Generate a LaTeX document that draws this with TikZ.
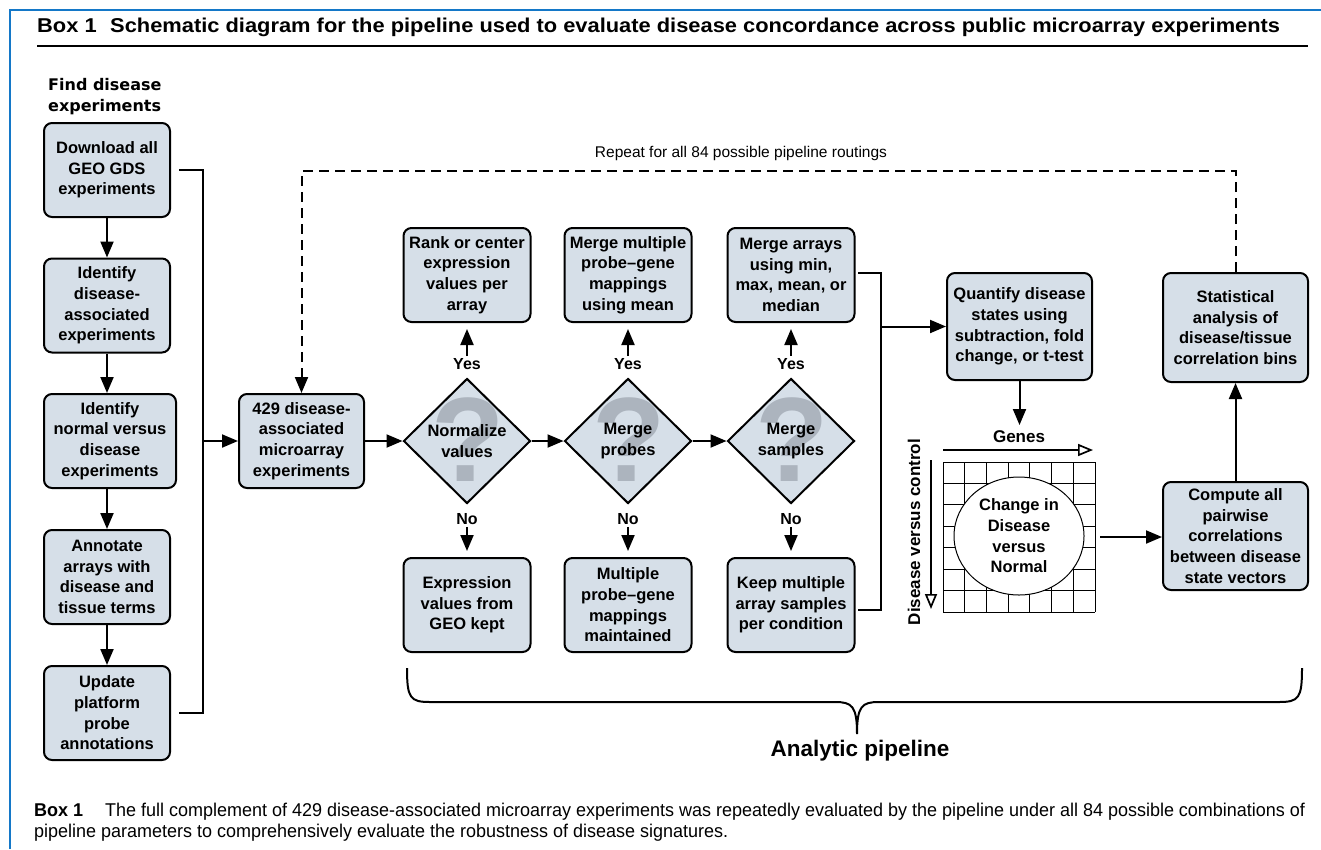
\documentclass[tikz,border=0pt]{standalone}
\usepackage{fontspec}
\usepackage{graphicx}
\setmainfont{Liberation Sans}
\newfontfamily\hdrfamily{DejaVu Sans}
\usetikzlibrary{arrows.meta,shapes.geometric,calc}
\definecolor{boxfill}{RGB}{214,223,232}
\definecolor{frameblue}{RGB}{20,120,200}
\definecolor{qmark}{RGB}{172,180,190}
\newlength\capw
\newlength\titw
\newcommand\boxfont{\bfseries\fontsize{16.5}{20.7}\selectfont}
\newcommand\titlefont{\bfseries\fontsize{20}{24}\selectfont}
\newcommand\capfont{\fontsize{18.5}{21}\selectfont}
\tikzset{
  pbox/.style={draw=black, line width=2pt, fill=boxfill, rounded corners=8pt,
    align=center, inner sep=0pt, font=\boxfont},
  lbox/.style={pbox, minimum width=126pt, minimum height=94pt},
  mbox/.style={pbox, minimum width=127pt, minimum height=94pt},
  rbox/.style={pbox, minimum width=145pt, minimum height=108pt},
  dia/.style={draw=black, line width=2pt, fill=boxfill, diamond, inner sep=0pt,
    minimum width=127pt, minimum height=125pt},
  qm/.style={font=\bfseries\fontsize{120}{120}\selectfont, text=qmark, inner sep=0pt},
  dtext/.style={font=\boxfont, align=center, inner sep=0pt},
  yn/.style={font=\bfseries\fontsize{16}{19}\selectfont, inner sep=2pt},
  conn/.style={line width=2pt},
  arr/.style={line width=2pt, -{Triangle[length=16pt,width=13pt]}},
  openarr/.style={line width=1.7pt, -{Triangle[open,length=15pt,width=12pt]}},
  dashconn/.style={line width=2pt, dash pattern=on 10pt off 6pt,
    -{Triangle[length=16pt,width=13pt]}},
  gridline/.style={line width=1pt},
}
\begin{document}
\settowidth{\titw}{\titlefont Schematic diagram for the pipeline used to evaluate disease concordance across public microarray experiments}%
\settowidth{\capw}{\capfont The full complement of 429 disease-associated microarray experiments was repeatedly evaluated by the pipeline under all 84 possible combinations of}%
\begin{tikzpicture}[x=1pt,y=-1pt]
\pgfmathsetmacro{\titfac}{1170/\titw}
\pgfmathsetmacro{\capfac}{1200/\capw}
\useasboundingbox (0,0) rectangle (1321,849);
\fill[white] (0,0) rectangle (1321,849);
% frame
\draw[frameblue, line width=2.8pt] (10,849) -- (10,10) -- (1321,10);
% title
\node[anchor=base west, inner sep=0pt, font=\titlefont] (tbox) at (37,32) {\scalebox{\titfac}[1]{Box 1}};
\node[anchor=base west, inner sep=0pt, font=\titlefont] (title) at (110,32) {\scalebox{\titfac}[1]{Schematic diagram for the pipeline used to evaluate disease concordance across public microarray experiments}};
\draw[line width=2.6pt] (37,46) -- (1308,46);
% header
\node[anchor=base west, inner sep=0pt, font=\hdrfamily\bfseries\fontsize{16}{20}\selectfont] (hdr1) at (48,90) {Find disease};
\node[anchor=base west, inner sep=0pt, font=\hdrfamily\bfseries\fontsize{16}{20}\selectfont] (hdr2) at (48,111) {experiments};
% left column
\node[lbox] (b1) at (107,170) {Download all\\GEO GDS\\experiments};
\node[lbox] (b2) at (107,305.5) {Identify\\disease-\\associated\\experiments};
\node[lbox, minimum width=132pt] (b3) at (110,441) {Identify\\normal versus\\disease\\experiments};
\node[lbox] (b4) at (107,577) {Annotate\\arrays with\\disease and\\tissue terms};
\node[lbox] (b5) at (107,713) {Update\\platform\\probe\\annotations};
\draw[arr] (b1.south) -- (b2.north);
\draw[arr] (b2.south) -- (b2.south |- b3.north);
\draw[arr] (b2.south |- b3.south) -- (b4.north);
\draw[arr] (b4.south) -- (b5.north);
% bracket 1
\coordinate (jl) at (203,441);
\draw[conn] ([xshift=8pt]b1.east) -| (jl |- b5.east) -- ([xshift=8pt]b5.east);
\node[lbox, minimum width=125pt] (n429) at (301.5,441) {429 disease-\\associated\\microarray\\experiments};
\draw[arr] (jl) -- (n429.west);
% diamonds
\node[dia] (d1) at (467,441) {};
\node[dia] (d2) at (628,441) {};
\node[dia] (d3) at (791,441) {};
\node[qm] (q1) at (468,440) {?};
\node[qm] (q2) at (629,440) {?};
\node[qm] (q3) at (792,440) {?};
\node[dtext] (dt1) at (d1.center) {Normalize\\values};
\node[dtext] (dt2) at (d2.center) {Merge\\probes};
\node[dtext] (dt3) at (d3.center) {Merge\\samples};
\draw[arr] (n429.east) -- (d1.west);
\draw[arr] (d1.east) -- (d2.west);
\draw[arr] (d2.east) -- (d3.west);
% top boxes
\node[mbox] (t1) at (467,275) {Rank or center\\expression\\values per\\array};
\node[mbox] (t2) at (628,275) {Merge multiple\\probe--gene\\mappings\\using mean};
\node[mbox] (t3) at (791,275) {Merge arrays\\using min,\\max, mean, or\\median};
% bottom boxes
\node[mbox] (u1) at (467,605) {Expression\\values from\\GEO kept};
\node[mbox] (u2) at (628,605) {Multiple\\probe--gene\\mappings\\maintained};
\node[mbox] (u3) at (791,605) {Keep multiple\\array samples\\per condition};
% yes / no
\node[yn] (y1) at (467,364) {Yes};
\node[yn] (y2) at (628,364) {Yes};
\node[yn] (y3) at (791,364) {Yes};
\node[yn] (n1) at (467,519) {No};
\node[yn] (n2) at (628,519) {No};
\node[yn] (n3) at (791,519) {No};
\foreach \k in {1,2,3}{
  \draw[arr] (y\k.north) -- ([yshift=-6pt]t\k.south);
  \draw[arr] (n\k.south) -- ([yshift=6pt]u\k.north);
}
% bracket 2
\coordinate (r1) at (858,273);
\coordinate (r2) at (881,273);
\coordinate (r3) at (881,610);
\coordinate (r4) at (858,610);
\draw[conn] (r1) -- (r2) -- (r3) -- (r4);
\node[rbox, minimum height=107pt] (quant) at (1019.5,326.5) {Quantify disease\\states using\\subtraction, fold\\change, or t-test};
\draw[arr] (r2 |- quant.west) -- (quant.west);
\coordinate (qd) at (1019.5,425);
\draw[arr] (quant.south) -- (qd);
% matrix
\node[inner sep=0pt, minimum width=152pt, minimum height=150pt] (grid) at (1019,537) {};
\foreach \i in {0,...,7}{
  \draw[gridline] (943+\i*21.714,462) -- (943+\i*21.714,612);
  \draw[gridline] (943,462+\i*21.43) -- (1095,462+\i*21.43);
}
\node[draw, line width=1pt, fill=white, ellipse, inner sep=0pt, minimum width=130pt, minimum height=118pt] (chg) at (1019,536) {};
\node[dtext] (chgt) at (chg.center) {Change in\\Disease\\versus\\Normal};
\coordinate (ga) at (943,450);
\coordinate (gb) at (1093,450);
\draw[openarr] (ga) -- (gb);
\node[font=\bfseries\fontsize{17}{19}\selectfont, inner sep=0pt] (genes) at (1019,437) {Genes};
\coordinate (va) at (931,460);
\coordinate (vb) at (931,609);
\draw[openarr] (va) -- (vb);
\node[font=\bfseries\fontsize{17}{19}\selectfont, inner sep=0pt, rotate=90] (dvc) at (914,532) {Disease versus control};
% right column
\node[rbox, minimum height=109pt] (stat) at (1235.5,327.5) {Statistical\\analysis of\\disease/tissue\\correlation bins};
\node[rbox] (comp) at (1235.5,536) {Compute all\\pairwise\\correlations\\between disease\\state vectors};
\draw[arr] ([xshift=5pt]grid.east) -- (grid.east -| comp.west);
\draw[arr] (comp.north) -- (stat.south);
% dashed loop
\coordinate (dtop) at (0,171);
\draw[dashconn] (stat.north) -- (stat.north |- dtop) -- (n429.north |- dtop) -- (n429.north);
\node[font=\fontsize{15.5}{19}\selectfont, inner sep=0pt] (rep) at (741,153) {Repeat for all 84 possible pipeline routings};
% brace
\draw[line width=2pt] (407,668) .. controls (407,698) and (410,702) .. (430,702) -- (835,702)
  .. controls (852,702) and (857,706) .. (857,734)
  .. controls (857,706) and (862,702) .. (879,702) -- (1279,702)
  .. controls (1299,702) and (1302,698) .. (1302,668);
\node[font=\bfseries\fontsize{22.5}{26}\selectfont, inner sep=0pt] (ap) at (860,751) {Analytic pipeline};
% caption
\node[anchor=base west, inner sep=0pt, font=\capfont] (cb) at (34,816) {\scalebox{\capfac}[1]{\textbf{Box 1}}};
\node[anchor=base west, inner sep=0pt, font=\capfont] (c1) at (105,816) {\scalebox{\capfac}[1]{The full complement of 429 disease-associated microarray experiments was repeatedly evaluated by the pipeline under all 84 possible combinations of}};
\node[anchor=base west, inner sep=0pt, font=\capfont] (c2) at (34,837) {\scalebox{\capfac}[1]{pipeline parameters to comprehensively evaluate the robustness of disease signatures.}};
\end{tikzpicture}
\end{document}
